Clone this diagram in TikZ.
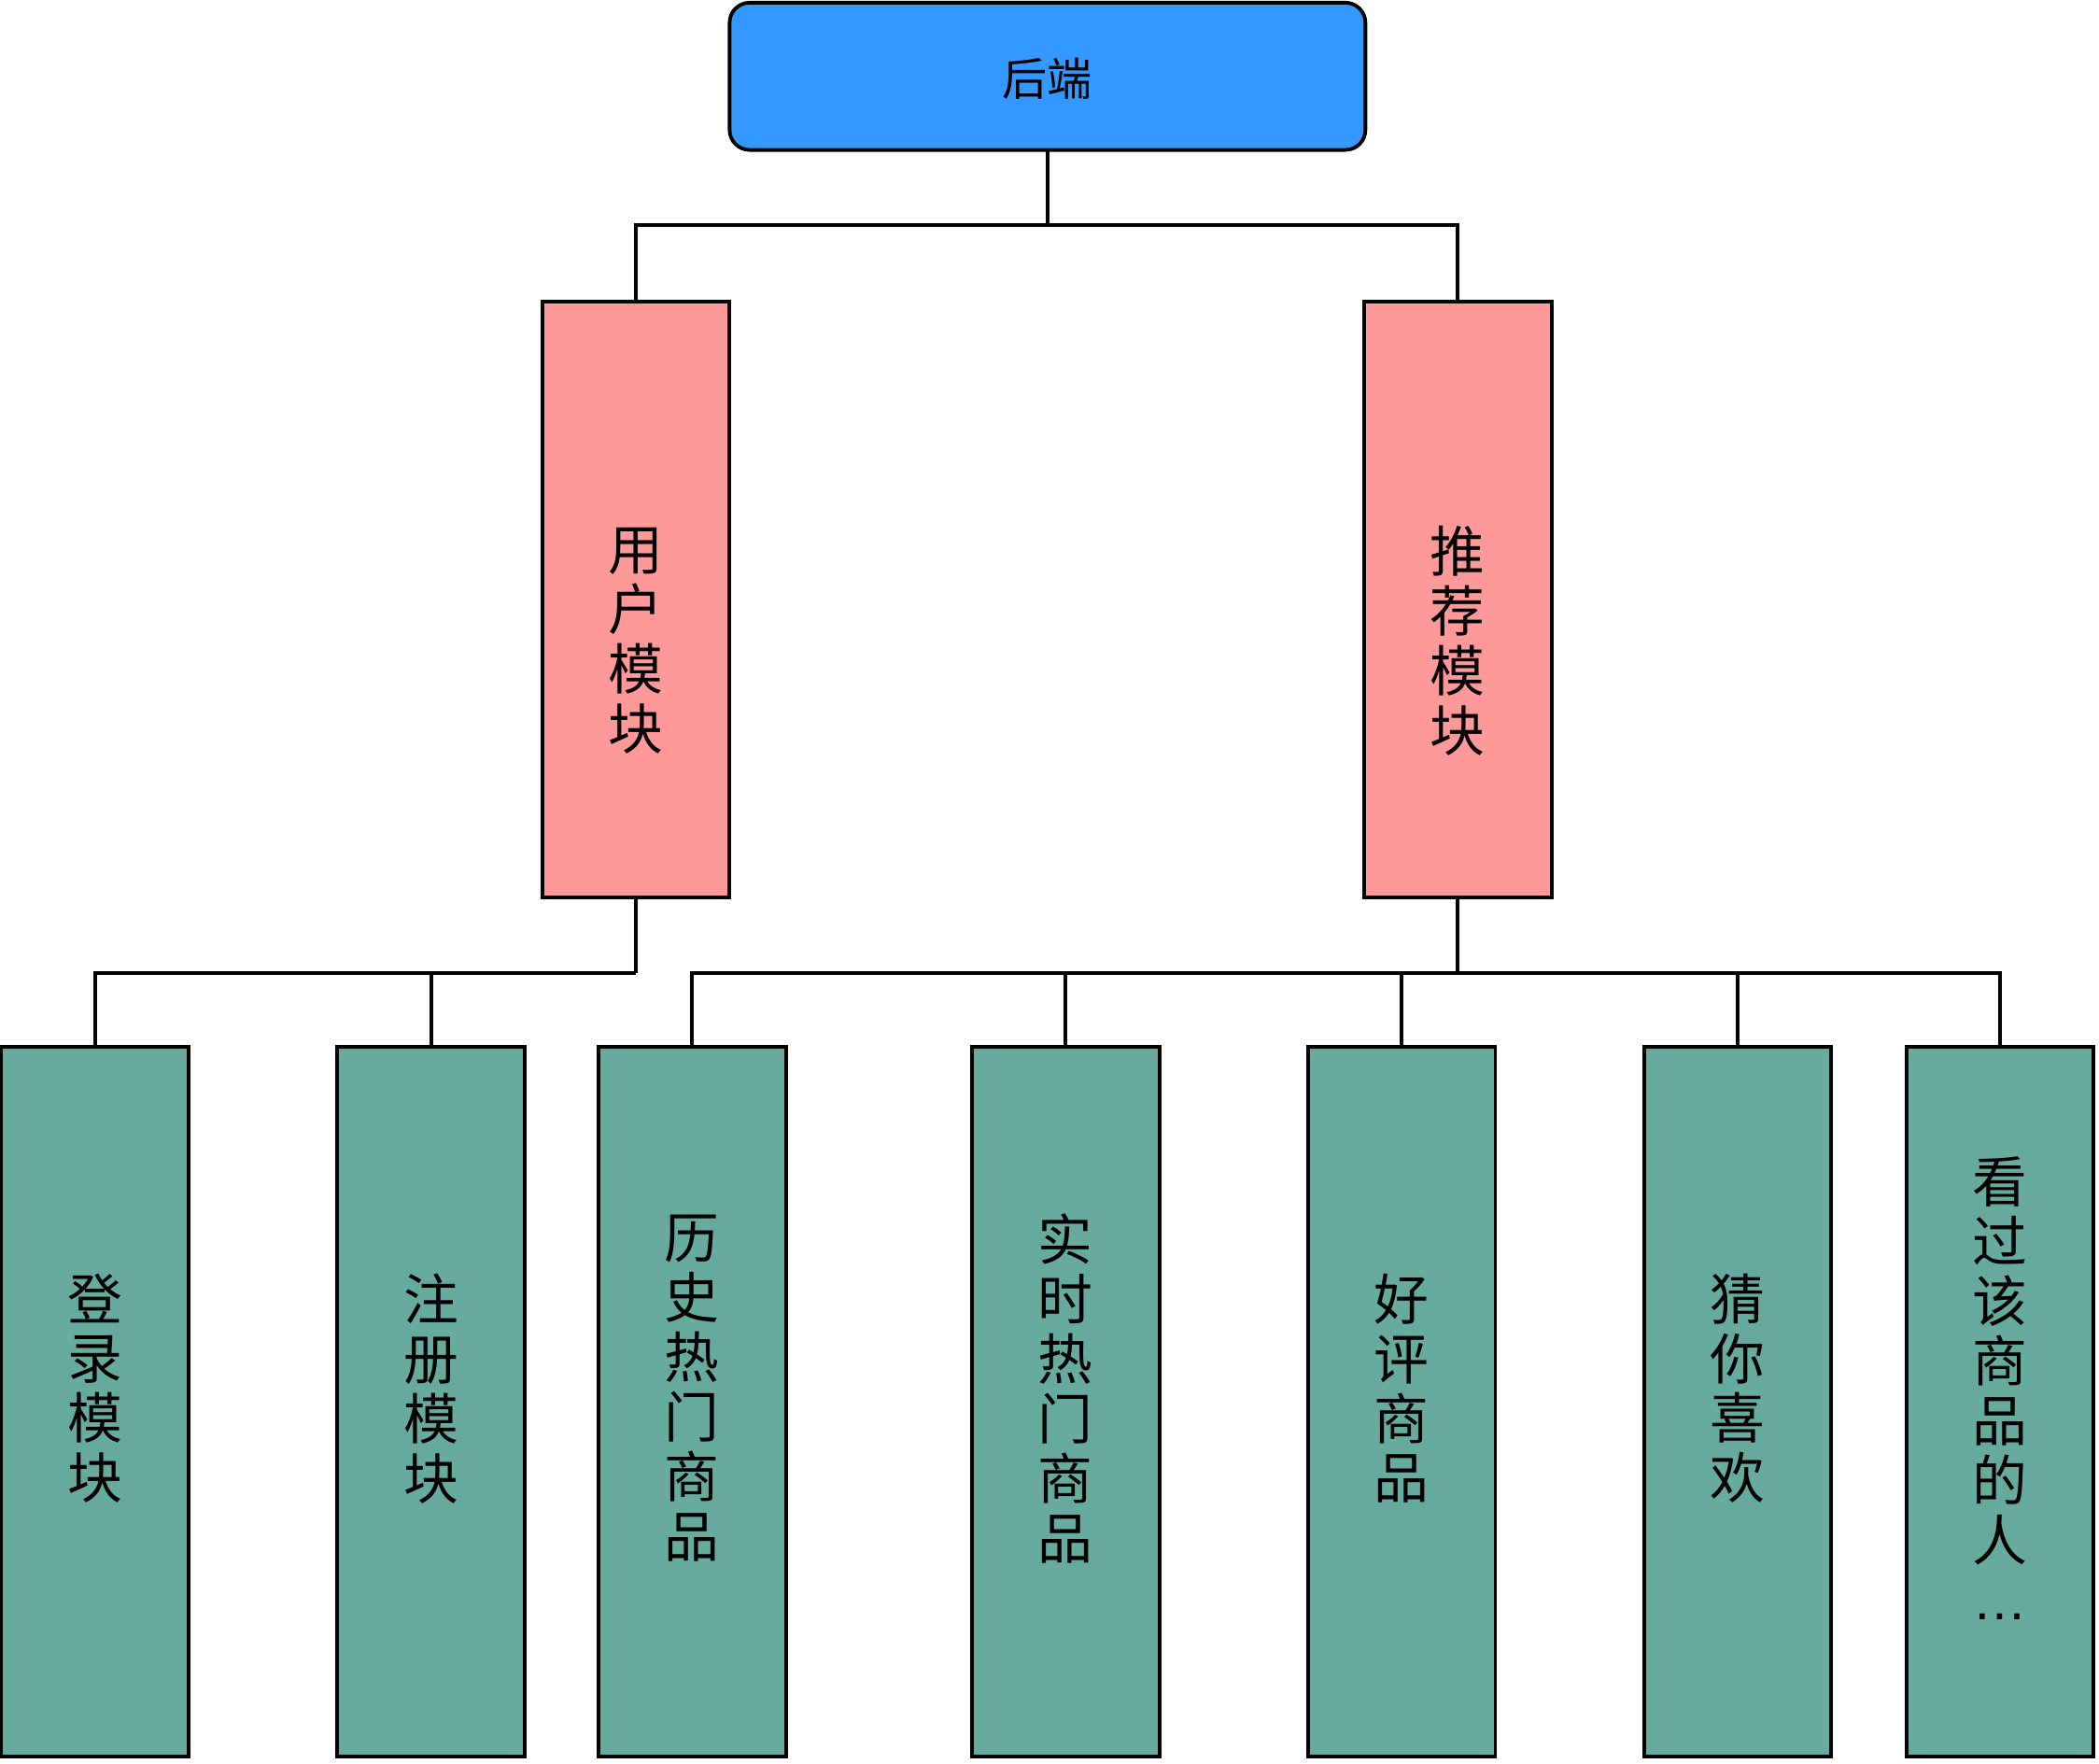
\documentclass[tikz,border=0pt]{standalone}
\usepackage{fontspec}
\setmainfont{Noto Sans CJK SC}
\newfontfamily\latinfont{Liberation Sans}
\definecolor{topblue}{HTML}{3399FF}
\definecolor{modpink}{HTML}{FF9999}
\definecolor{leafgreen}{HTML}{67AB9F}
\begin{document}
\begin{tikzpicture}[x=0.5pt,y=-0.5pt,
  every node/.style={inner sep=0pt,outer sep=0pt},
  conn/.style={draw=black,line width=1.35pt},
  topbox/.style={draw=black,line width=1.35pt,fill=topblue,rounded corners=7.5pt,
    minimum width=237.5pt,minimum height=55pt},
  toptext/.style={font={\fontsize{16.8}{20}\selectfont}},
  modbox/.style={draw=black,line width=1.35pt,fill=modpink,
    minimum width=70pt,minimum height=222.5pt},
  leafbox/.style={draw=black,line width=1.35pt,fill=leafgreen,
    minimum width=70pt,minimum height=265pt},
  vtext/.style={align=center,font={\fontsize{20.5}{22.3}\selectfont}}
]
\useasboundingbox (0,0) rectangle (1568,1317);
\node[topbox] (top) at (782.5,57) {};
\node[toptext,yshift=-1pt] (toplbl) at (top) {后端};
\node[modbox] (user) at (475,447.5) {};
\node[modbox] (rec) at (1089,447.5) {};
\node[vtext,yshift=-15.5pt] (userlbl) at (user) {用\\户\\模\\块};
\node[vtext,yshift=-15.5pt] (reclbl) at (rec) {推\\荐\\模\\块};
\node[leafbox] (g1) at (71,1047) {};
\node[leafbox] (g2) at (322,1047) {};
\node[leafbox] (g3) at (517,1047) {};
\node[leafbox] (g4) at (796,1047) {};
\node[leafbox] (g5) at (1047,1047) {};
\node[leafbox] (g6) at (1298,1047) {};
\node[leafbox] (g7) at (1494,1047) {};
\node[vtext,yshift=5pt] (t1) at (g1) {登\\录\\模\\块};
\node[vtext,yshift=5pt] (t2) at (g2) {注\\册\\模\\块};
\node[vtext,yshift=5pt] (t3) at (g3) {历\\史\\热\\门\\商\\品};
\node[vtext,yshift=5pt] (t4) at (g4) {实\\时\\热\\门\\商\\品};
\node[vtext,yshift=5pt] (t5) at (g5) {好\\评\\商\\品};
\node[vtext,yshift=5pt] (t6) at (g6) {猜\\你\\喜\\欢};
\node[vtext,yshift=5pt] (t7) at (g7) {看\\过\\该\\商\\品\\的\\人\\{\latinfont …}};
\coordinate (b1) at (782.5,168);
\coordinate (b2) at (475,727);
\coordinate (b3) at (1089,727);
\draw[conn] (top.south) -- (b1);
\draw[conn] (b1) -| (user.north);
\draw[conn] (b1) -| (rec.north);
\draw[conn] (user.south) -- (b2);
\draw[conn] (b2) -| (g1.north);
\draw[conn] (b2) -| (g2.north);
\draw[conn] (rec.south) -- (b3);
\draw[conn] (b3) -| (g3.north);
\draw[conn] (b3) -| (g4.north);
\draw[conn] (b3) -| (g5.north);
\draw[conn] (b3) -| (g6.north);
\draw[conn] (b3) -| (g7.north);
\end{tikzpicture}
\end{document}
